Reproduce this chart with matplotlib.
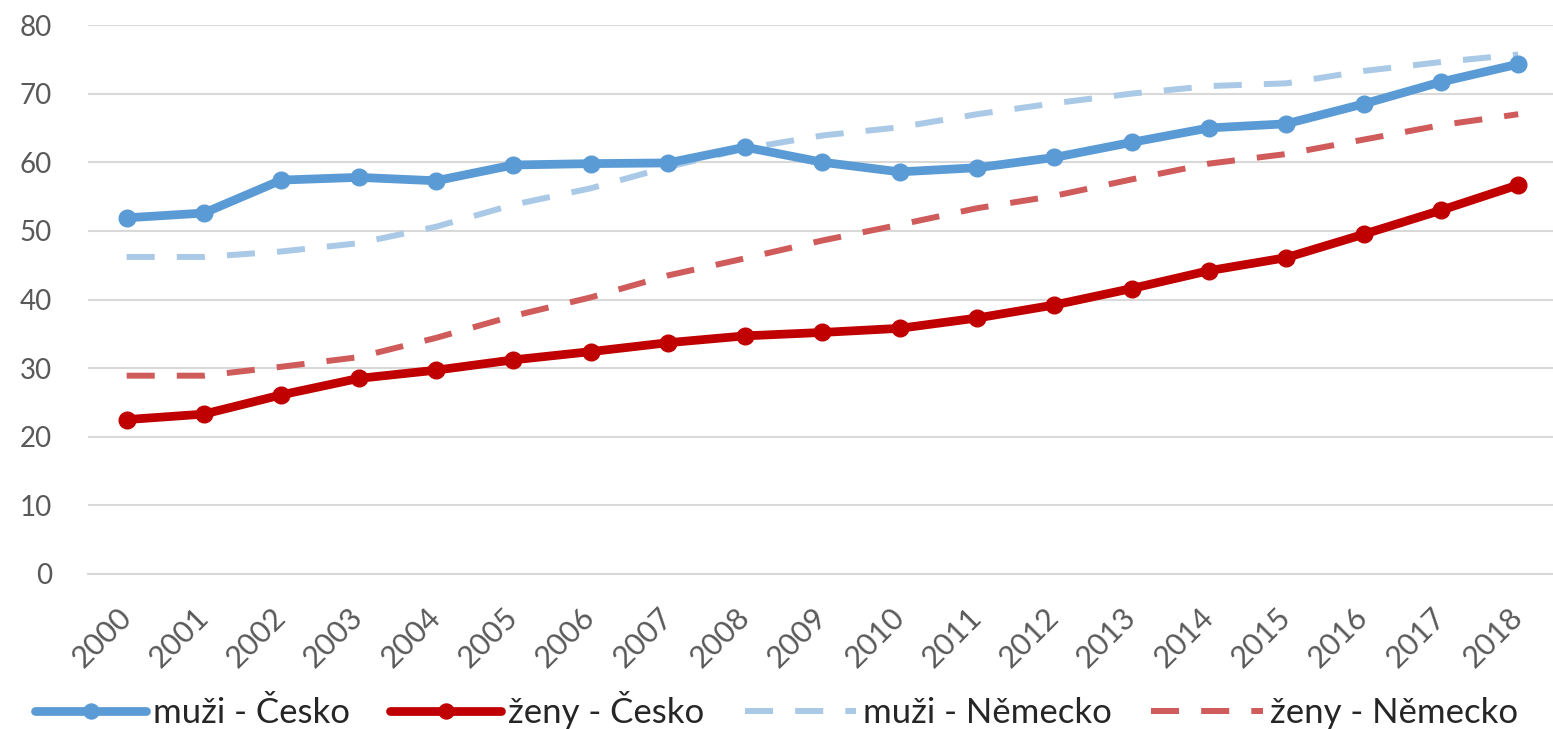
import matplotlib.pyplot as plt

plt.rcParams["font.family"] = ["Lato", "DejaVu Sans"]

years = [str(y) for y in range(2000, 2019)]

muzi_cesko = [51.9, 52.6, 57.4, 57.8, 57.3, 59.6, 59.8, 59.9, 62.2, 60.0,
              58.6, 59.2, 60.7, 62.9, 65.0, 65.6, 68.5, 71.7, 74.3]
zeny_cesko = [22.5, 23.3, 26.1, 28.5, 29.7, 31.2, 32.4, 33.7, 34.7, 35.2,
              35.8, 37.3, 39.2, 41.6, 44.2, 46.1, 49.5, 53.0, 56.7]
muzi_nemecko = [46.2, 46.2, 47.0, 48.2, 50.6, 53.8, 56.2, 59.3, 62.0, 63.9,
                65.1, 67.0, 68.6, 70.0, 71.1, 71.5, 73.3, 74.6, 75.7]
zeny_nemecko = [28.9, 28.9, 30.2, 31.6, 34.4, 37.6, 40.3, 43.5, 46.0, 48.6,
                50.9, 53.3, 55.1, 57.5, 59.8, 61.2, 63.3, 65.4, 67.0]

labels = ["muži - Česko", "ženy - Česko", "muži - Německo", "ženy - Německo"]

fig = plt.figure(figsize=(15.53, 7.29), dpi=100)
ax = fig.add_axes([88 / 1553, 155 / 729, 1465 / 1553, 549 / 729])

x = list(range(len(years)))

ax.plot(x, muzi_cesko, color="#5B9BD5", lw=6.3, marker="o", ms=12,
        solid_capstyle="round", label=labels[0], zorder=4)
ax.plot(x, zeny_cesko, color="#C00000", lw=6.3, marker="o", ms=12,
        solid_capstyle="round", label=labels[1], zorder=4)
ax.plot(x, muzi_nemecko, color="#A9C9E6", lw=4.3, dashes=(4.7, 3.7),
        label=labels[2], zorder=3)
ax.plot(x, zeny_nemecko, color="#CF5B5B", lw=4.3, dashes=(4.7, 3.7),
        label=labels[3], zorder=3)

ax.set_xlim(-0.5, 18.45)
ax.set_ylim(0, 80)
ax.set_yticks(range(0, 81, 10))
ax.set_xticks(x)
ax.set_xticklabels(years, rotation=45, ha="right", va="center",
                   rotation_mode="anchor")

ax.grid(axis="y", color="#D9D9D9", lw=1.5)
ax.set_axisbelow(True)
for side in ["top", "right", "left", "bottom"]:
    ax.spines[side].set_visible(False)
ax.spines["bottom"].set_visible(True)
ax.spines["bottom"].set_color("#D9D9D9")
ax.spines["bottom"].set_linewidth(1.5)

ax.tick_params(axis="y", length=0, pad=26, labelsize=20, labelcolor="#595959")
ax.tick_params(axis="x", length=0, pad=28, labelsize=22, labelcolor="#595959")

leg = fig.legend(loc="center", bbox_to_anchor=(0.5, 0.026), ncol=4,
                 frameon=False, fontsize=25, handlelength=3.2,
                 handletextpad=0.2, columnspacing=1.15, numpoints=1,
                 markerscale=0.9)
for t in leg.get_texts():
    t.set_color("#262626")

fig.savefig("out.png", dpi=100)
